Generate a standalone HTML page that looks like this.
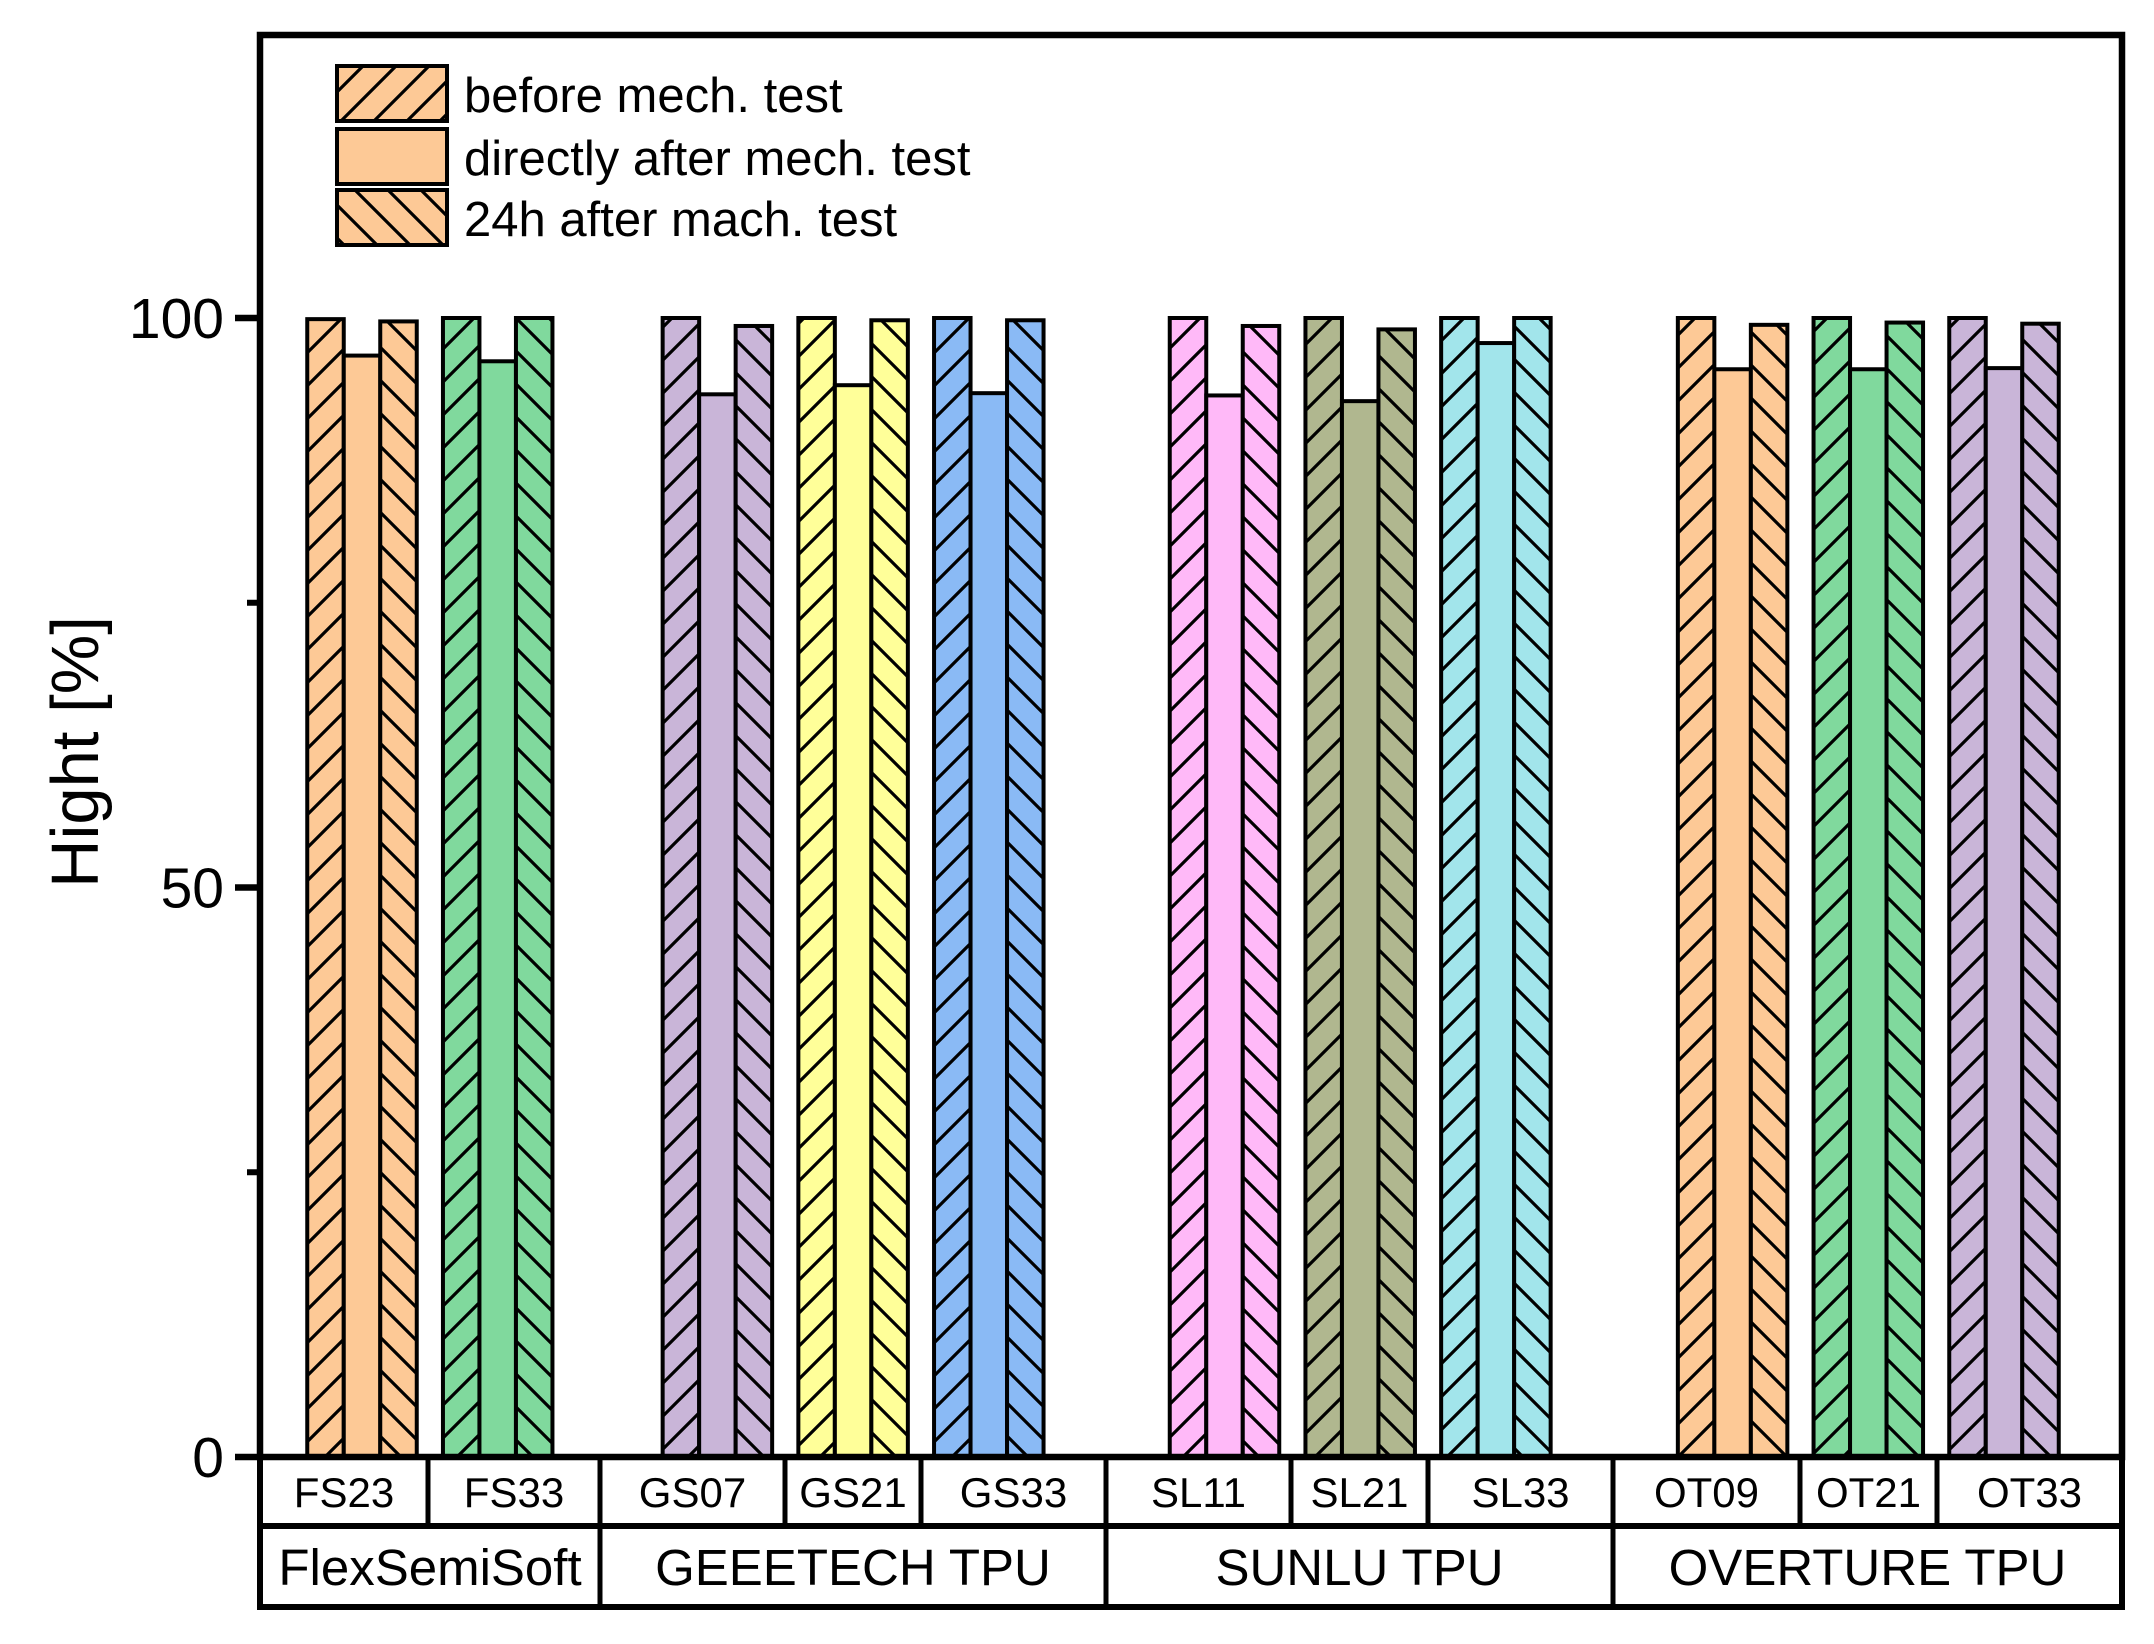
<!DOCTYPE html>
<html><head><meta charset="utf-8"><style>
html,body{margin:0;padding:0;background:#fff;}
svg{display:block;font-family:"Liberation Sans",Arial,sans-serif;}
</style></head><body>
<svg id="chart" width="2154" height="1644" viewBox="0 0 2154 1644">
<defs id="defs"></defs>
<g id="bars"></g>
<g id="frame"></g>
<g id="legend"></g>
<g id="table"></g>
<text x="0" y="0" transform="translate(98,752) rotate(-90)" text-anchor="middle" font-size="67">Hight [%]</text>
</svg>
<script>
const categories = ["FS23","FS33","GS07","GS21","GS33","SL11","SL21","SL33","OT09","OT21","OT33"];
const categoryGroup = [0,0,1,1,1,2,2,2,3,3,3];
const groups = ["FlexSemiSoft","GEEETECH TPU","SUNLU TPU","OVERTURE TPU"];
const seriesNames = ["before mech. test","directly after mech. test","24h after mach. test"];
const beforeValues = [99.9,100,100,100,100,100,100,100,100,100,100];
const directlyValues = [96.7,96.2,93.3,94.1,93.4,93.2,92.7,97.8,95.5,95.5,95.6];
const after24hValues = [99.7,100,99.3,99.8,99.8,99.3,99.0,100,99.4,99.6,99.5];
const yTicks = [0,50,100];
const yMinorTicks = [25,75];
const colors = ["#FDC996","#80D99D","#C9B5D8","#FFFF99","#8ABAF5","#FFB9F8","#B0B78F","#A2E5EB","#FDC996","#80D99D","#C9B5D8"];

const NS="http://www.w3.org/2000/svg";
function mk(tag, attrs, parent){const e=document.createElementNS(NS,tag);for(const k in attrs)e.setAttribute(k,attrs[k]);if(parent)parent.appendChild(e);return e;}
const L=260,R=2122,T=35,Y0=1457,Y100=318;
function y(v){return Y0+(Y100-Y0)*v/100;}
const step=135.7, groupOffset=[0,84,184,285];
function xc(i){return 362+i*step+groupOffset[categoryGroup[i]];}
const BW=36.5;
const defs=document.getElementById('defs');
const pats={};
function pattern(color,dir){
  const id='p'+color.slice(1)+dir;
  if(pats[id])return id;pats[id]=1;
  const p=mk('pattern',{id:id,patternUnits:'userSpaceOnUse',width:33,height:33},defs);
  mk('rect',{x:0,y:0,width:33,height:33,fill:color},p);
  if(dir==='f'){mk('path',{d:'M-3,36 L36,-3 M-10,10 L10,-10 M23,43 L43,23',stroke:'#000','stroke-width':3.2},p);}
  else{mk('path',{d:'M-3,-3 L36,36 M-10,23 L10,43 M23,-10 L43,10',stroke:'#000','stroke-width':3.2},p);}
  return id;
}
const bars=document.getElementById('bars');
const series=[beforeValues,directlyValues,after24hValues];
categories.forEach((c,i)=>{
  series.forEach((vals,s)=>{
    const x=xc(i)+(s-1)*BW-BW/2;
    const fill = s===1?colors[i]:'url(#'+pattern(colors[i],s===0?'f':'b')+')';
    const r=mk('rect',{x:x,y:y(vals[i]),width:BW,height:Y0-y(vals[i]),fill:fill,stroke:'#000','stroke-width':4},bars);
    
    
  });
});
const fr=document.getElementById('frame');
const box=mk('rect',{x:L,y:T,width:R-L,height:Y0-T,fill:'none',stroke:'#000','stroke-width':6.5},fr);


yTicks.forEach(v=>{
  const t=mk('line',{x1:L-25,x2:L,y1:y(v),y2:y(v),stroke:'#000','stroke-width':6.5},fr);
  
  
  const tx=mk('text',{x:L-36,y:y(v)+20,'text-anchor':'end','font-size':57},fr);
  tx.textContent=v;
  
  
});
yMinorTicks.forEach(v=>{
  const t=mk('line',{x1:L-13,x2:L,y1:y(v),y2:y(v),stroke:'#000','stroke-width':6},fr);
  
  
});
const lg=document.getElementById('legend');
[66,129,190].forEach((ly,s)=>{
  const fill=s===1?colors[0]:'url(#'+pattern(colors[0],s===0?'f':'b')+')';
  const r=mk('rect',{x:337,y:ly,width:110,height:55,fill:fill,stroke:'#000','stroke-width':4},lg);
  
  
  const t=mk('text',{x:464,y:ly+46,'font-size':49},lg);
  t.textContent=seriesNames[s];
  
  
});
const tb=document.getElementById('table');
const R1=1526,R2=1607;
const catEdges=[260,428,600,785,921,1106,1291,1428,1613,1800,1937,2122];
const groupEdges=[260,600,1106,1613,2122];
const tbox=mk('rect',{x:L,y:Y0,width:R-L,height:R2-Y0,fill:'none',stroke:'#000','stroke-width':6},tb);


const hl=mk('line',{x1:L,x2:R,y1:R1,y2:R1,stroke:'#000','stroke-width':6},tb);


categories.forEach((c,i)=>{
  if(i>0){const d=mk('line',{x1:catEdges[i],x2:catEdges[i],y1:Y0,y2:R1,stroke:'#000','stroke-width':5},tb);
    
    }
  const t=mk('text',{x:(catEdges[i]+catEdges[i+1])/2,y:1507,'text-anchor':'middle','font-size':42},tb);
  t.textContent=c;
  
  
});
groups.forEach((g,i)=>{
  if(i>0){const d=mk('line',{x1:groupEdges[i],x2:groupEdges[i],y1:R1,y2:R2,stroke:'#000','stroke-width':5},tb);
    
    }
  const t=mk('text',{x:(groupEdges[i]+groupEdges[i+1])/2,y:1585,'text-anchor':'middle','font-size':51},tb);
  t.textContent=g;
  
  
});
</script>
</body></html>
